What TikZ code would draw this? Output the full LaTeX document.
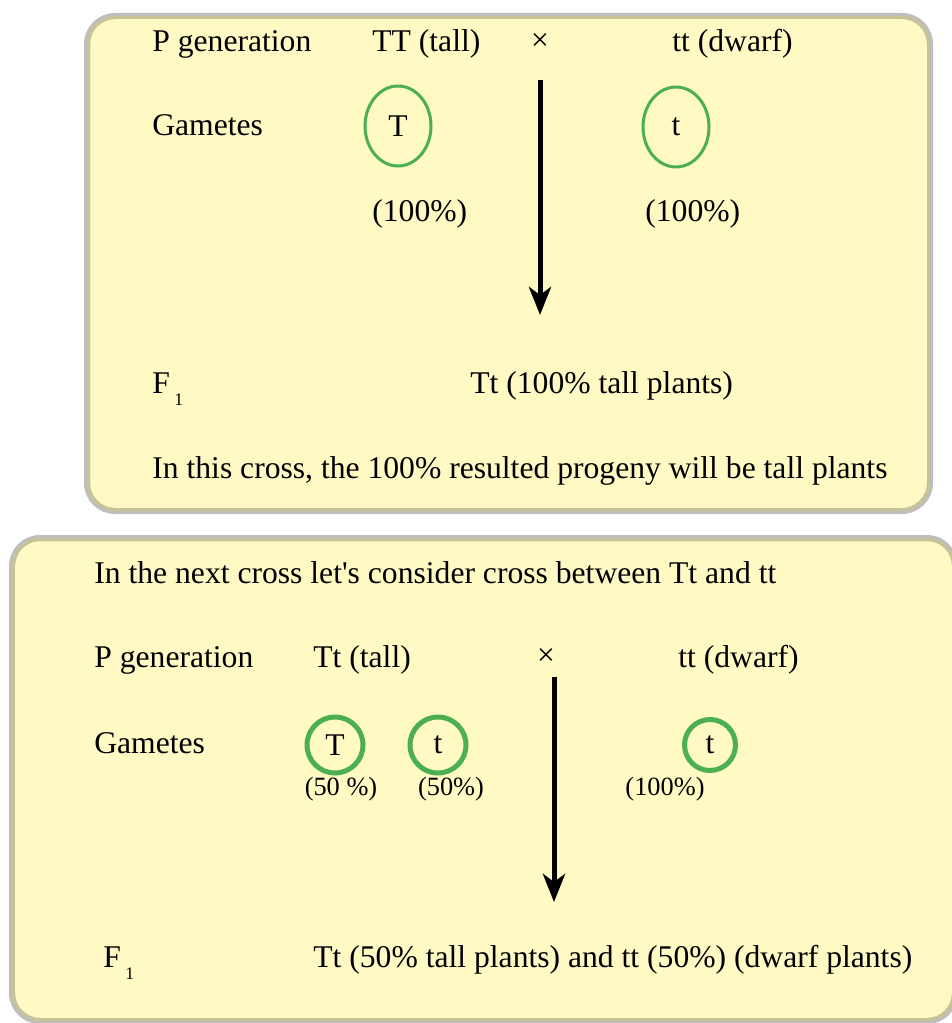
\documentclass[tikz,border=0pt]{standalone}
\usepackage{fontspec}
\setmainfont{Liberation Serif}
\usetikzlibrary{positioning,shapes.geometric,arrows.meta}
\definecolor{paper}{RGB}{255,249,196}
\definecolor{rimgray}{RGB}{190,190,190}
\definecolor{rimkhaki}{RGB}{200,195,150}
\definecolor{gamgreen}{RGB}{76,175,80}
\newcommand{\Fone}{F\hspace{2.5pt}\raisebox{-7pt}{\fontsize{10}{10}\selectfont 1}}

\begin{document}
\begin{tikzpicture}[
            x=0.02cm, y=-0.02cm,
            every node/.style={inner sep=0pt, font=\fontsize{18}{21}\selectfont},
            txt/.style={anchor=base west},
            pct/.style={anchor=base, font=\fontsize{15}{18}\selectfont},
            gamete/.style={draw=gamgreen, ellipse, line width=0.06cm,
                minimum width=1.32cm, minimum height=1.6cm},
            gameteb/.style={draw=gamgreen, circle, line width=0.1cm, minimum size=1.12cm},
            crossarrow/.style={-{Stealth[length=0.56cm,width=0.44cm,inset=0.16cm]}, line width=0.1cm}
        ]
            \useasboundingbox (0,0) rectangle (951,1023);

            % Panels
            \draw[fill=paper, draw=rimgray, line width=0.12cm, rounded corners=0.56cm]
                (87,16) rectangle (930,511);
            \draw[draw=rimkhaki, line width=0.06cm, rounded corners=0.53cm]
                (88.5,17.5) rectangle (928.5,509.5);
            \draw[fill=paper, draw=rimgray, line width=0.12cm, rounded corners=0.56cm]
                (12,538) rectangle (955,1021);
            \draw[draw=rimkhaki, line width=0.06cm, rounded corners=0.53cm]
                (13.5,539.5) rectangle (953.5,1019.5);

            % First cross: TT x tt
            \node[txt] (pgenA) at (152,52) {P generation};
            \node[txt] (parA1) at (372,52) {TT (tall)};
            \node (xA) at (540,42) {×};
            \node[txt] (parA2) at (672,52) {tt (dwarf)};
            \node[txt] (gamA) at (152,136) {Gametes};
            \node[gamete] (gA1) at (398,126) {T};
            \node[gamete] (gA2) at (676,127) {t};
            \node[txt] (pA1) at (372,222) {(100\%)};
            \node[txt] (pA2) at (645,222) {(100\%)};
            \node[txt] (fA) at (152,393) {\Fone};
            \node[txt] (resA) at (470,393) {Tt (100\% tall plants)};
            \node[txt] (noteA) at (152,478) {In this cross, the 100\% resulted progeny will be tall plants};
            \coordinate (arrA1) at (540,80);
            \coordinate (arrA2) at (540,315);
            \draw[crossarrow] (arrA1) -- (arrA2);

            % Second cross: Tt x tt
            \node[txt] (introB) at (94,583) {In the next cross let\textquotesingle s consider cross between Tt and tt};
            \node[txt] (pgenB) at (94,667) {P generation};
            \node[txt] (parB1) at (313,667) {Tt (tall)};
            \node (xB) at (546,657) {×};
            \node[txt] (parB2) at (678,667) {tt (dwarf)};
            \node[txt] (gamB) at (94,753) {Gametes};
            \node[gameteb] (gB1) at (335,745) {T};
            \node[gameteb] (gB2) at (438,745) {t};
            \node[gameteb, minimum size=1.02cm] (gB3) at (710,745) {t};
            \node[pct] (pB1) at (341,795) {(50 \%)};
            \node[pct] (pB2) at (451,795) {(50\%)};
            \node[pct] (pB3) at (665,795) {(100\%)};
            \node[txt] (fB) at (103,967) {\Fone};
            \node[txt] (resB) at (313,967) {Tt (50\% tall plants) and tt (50\%) (dwarf plants)};
            \coordinate (arrB1) at (554,677);
            \coordinate (arrB2) at (554,902);
            \draw[crossarrow] (arrB1) -- (arrB2);
        \end{tikzpicture}
\end{document}
